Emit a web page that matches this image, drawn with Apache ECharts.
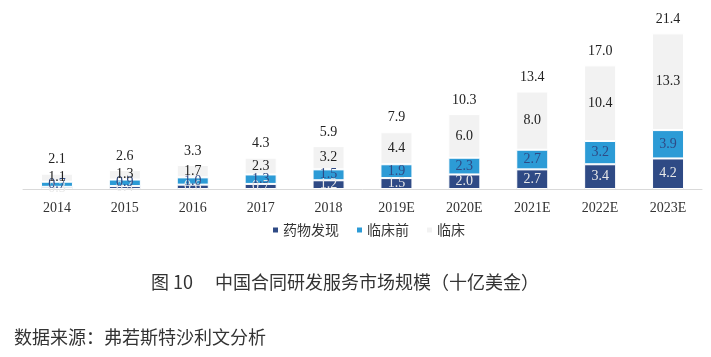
<!DOCTYPE html>
<html>
<head>
<meta charset="utf-8">
<script src="https://cdn.jsdelivr.net/npm/echarts@6/dist/echarts.min.js"></script>
<style>
html,body{margin:0;padding:0;background:#fff;}
#c{width:711px;height:357px;}
</style>
</head>
<body>
<div id="c"></div>
<script>
var categories = ['2014','2015','2016','2017','2018','2019E','2020E','2021E','2022E','2023E'];
var drugDiscovery = [0.3,0.4,0.6,0.7,1.2,1.5,2.0,2.7,3.4,4.2];
var preclinical = [0.7,0.9,1.0,1.3,1.5,1.9,2.3,2.7,3.2,3.9];
var clinical = [1.1,1.3,1.7,2.3,3.2,4.4,6.0,8.0,10.4,13.3];
var totals = [2.1,2.6,3.3,4.3,5.9,7.9,10.3,13.4,17.0,21.4];
var seriesNames = ['药物发现','临床前','临床'];
var titleText = '图 10\u3000 中国合同研发服务市场规模（十亿美金）';
var sourceText = '数据来源：弗若斯特沙利文分析';

var serif = '"Liberation Serif","DejaVu Serif",serif';
var cjk = '"Noto Sans CJK SC","Liberation Serif",sans-serif';
var chart = echarts.init(document.getElementById('c'), null, {renderer:'canvas'});
var fmt = function(p){ return p.value.toFixed(1); };
var barW = 32;
chart.setOption({
  animation:false,
  backgroundColor:'#fff',
  grid:{left:23,right:9,top:29,height:160},
  legend:{
    data:seriesNames,
    top:218,
    left:266,
    itemWidth:7,itemHeight:7,itemGap:16,
    icon:'rect',
    textStyle:{fontFamily:cjk,fontSize:14,color:'#333',padding:[0,0,0,-1]}
  },
  xAxis:{
    type:'category',
    data:categories,
    axisLine:{lineStyle:{color:'#d9d9d9',width:1}},
    axisTick:{show:false},
    axisLabel:{fontFamily:serif,fontSize:14,color:'#333',margin:12}
  },
  yAxis:{type:'value',min:0,max:22,show:false,splitLine:{show:false}},
  series:[
    {name:'合计',type:'bar',data:totals,barWidth:barW,barGap:'-100%',z:1,
     itemStyle:{color:'rgba(0,0,0,0)'},
     label:{show:true,position:'top',distance:7,formatter:fmt,fontFamily:serif,fontSize:14,color:'#222'},
     silent:true},
    {name:seriesNames[0],type:'bar',stack:'s',data:drugDiscovery,barWidth:barW,z:2,
     itemStyle:{color:'#2F4A85',borderColor:'#fff',borderWidth:1},
     label:{show:true,position:'inside',formatter:fmt,fontFamily:serif,fontSize:14,color:'#e8e8e8'}},
    {name:seriesNames[1],type:'bar',stack:'s',data:preclinical,barWidth:barW,z:2,
     itemStyle:{color:'#2C9BD6',borderColor:'#fff',borderWidth:1},
     label:{show:true,position:'inside',formatter:fmt,fontFamily:serif,fontSize:14,color:'#2F4A85'}},
    {name:seriesNames[2],type:'bar',stack:'s',data:clinical,barWidth:barW,z:2,
     itemStyle:{color:'#F2F2F2',borderColor:'#fff',borderWidth:1},
     label:{show:true,position:'inside',formatter:fmt,fontFamily:serif,fontSize:14,color:'#222'}}
  ],
  graphic:[
    {type:'text',left:151,top:273,style:{text:titleText,fontFamily:cjk,fontSize:18,fill:'#333'}},
    {type:'text',left:14,top:328,style:{text:sourceText,fontFamily:cjk,fontSize:18,fill:'#333'}}
  ]
});
</script>
</body>
</html>
